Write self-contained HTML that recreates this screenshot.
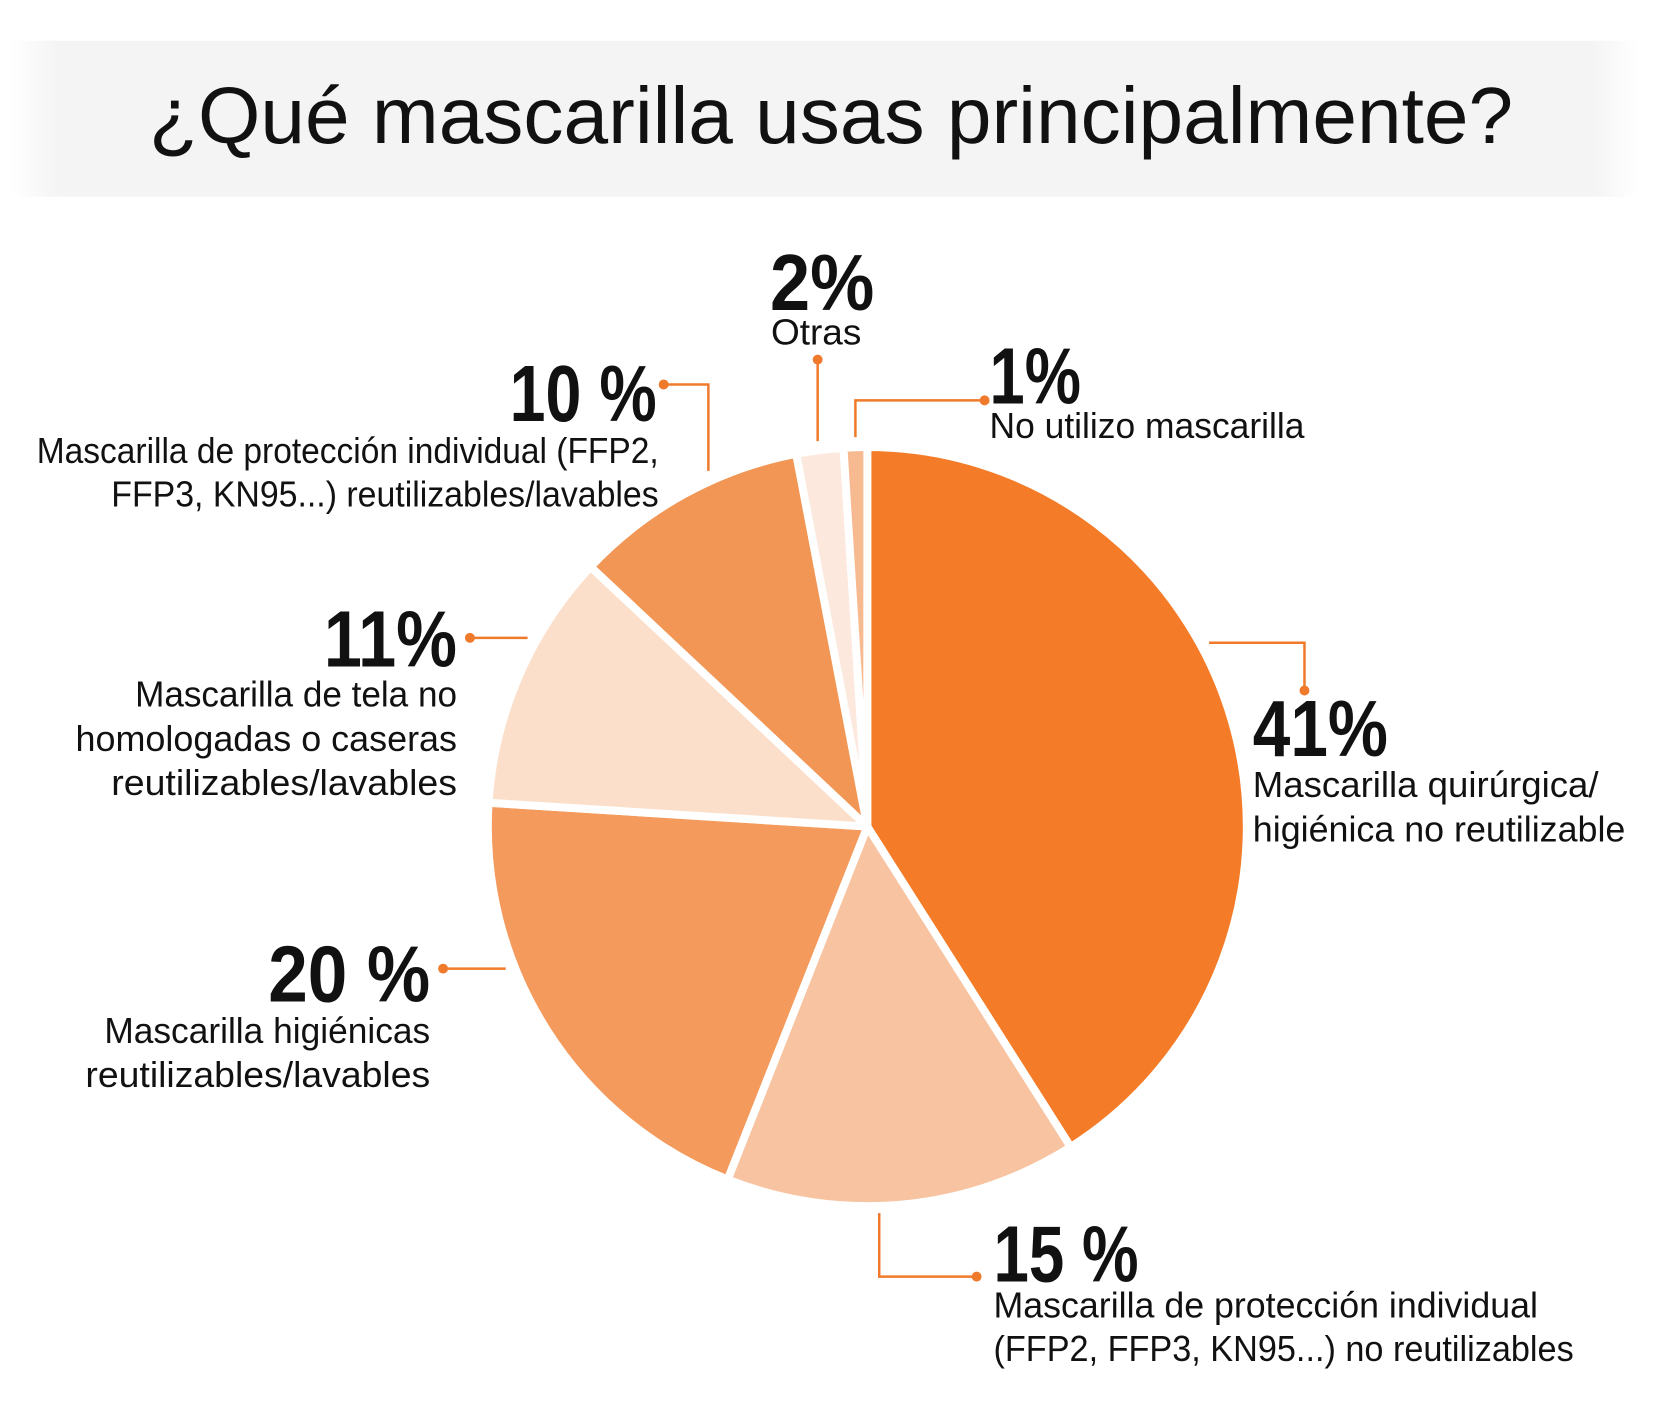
<!DOCTYPE html>
<html><head><meta charset="utf-8"><style>
html,body{margin:0;padding:0;background:#fff}
svg{display:block}
text{font-family:"Liberation Sans",sans-serif;fill:#111}
.p{font-weight:bold;font-size:80px}
.t{font-size:36px}
</style></head><body>
<svg id="s" width="1667" height="1404" viewBox="0 0 1667 1404" xmlns="http://www.w3.org/2000/svg">
<defs><linearGradient id="g" x1="0" x2="1"><stop offset="0" stop-color="#fff"/><stop offset="0.03" stop-color="#f4f4f4"/><stop offset="0.97" stop-color="#f4f4f4"/><stop offset="1" stop-color="#fff"/></linearGradient></defs>
<g transform="scale(0.9935)">
<rect x="10" y="41" width="1640" height="157" fill="url(#g)"/>
<text x="150" y="144" font-size="80" textLength="1373" lengthAdjust="spacingAndGlyphs">¿Qué mascarilla usas principalmente?</text>
<g id="pie"></g>
<g stroke="#f07a2c" stroke-width="2.5" fill="none">
<polyline points="1217,647 1313,647 1313,695"/>
<polyline points="885,1221 885,1285 983,1285"/>
<polyline points="446,975 509,975"/>
<polyline points="473,642 531,642"/>
<polyline points="668,387 713,387 713,474"/>
<polyline points="823,362 823,444"/>
<polyline points="861,440 861,403 991,403"/>
</g>
<g fill="#f07a2c">
<circle cx="1313" cy="695" r="5"/><circle cx="983" cy="1285" r="5"/><circle cx="446" cy="975" r="5"/>
<circle cx="473" cy="642" r="5"/><circle cx="668" cy="387" r="5"/><circle cx="823" cy="362" r="5"/><circle cx="991" cy="403" r="5"/>
</g>
<text class="p" x="1261" y="761" textLength="136" lengthAdjust="spacingAndGlyphs">41%</text>
<text class="t" x="1261" y="802" textLength="348" lengthAdjust="spacingAndGlyphs">Mascarilla quirúrgica/</text>
<text class="t" x="1261" y="847" textLength="375" lengthAdjust="spacingAndGlyphs">higiénica no reutilizable</text>
<text class="p" x="1000" y="1290" textLength="146" lengthAdjust="spacingAndGlyphs">15 %</text>
<text class="t" x="1000" y="1326" textLength="548" lengthAdjust="spacingAndGlyphs">Mascarilla de protección individual</text>
<text class="t" x="1000" y="1370" textLength="584" lengthAdjust="spacingAndGlyphs">(FFP2, FFP3, KN95...) no reutilizables</text>
<text class="p" x="270" y="1008" textLength="163" lengthAdjust="spacingAndGlyphs">20 %</text>
<text class="t" x="105" y="1050" textLength="328" lengthAdjust="spacingAndGlyphs">Mascarilla higiénicas</text>
<text class="t" x="86" y="1094" textLength="347" lengthAdjust="spacingAndGlyphs">reutilizables/lavables</text>
<text class="p" x="326" y="671" textLength="134" lengthAdjust="spacingAndGlyphs">11%</text>
<text class="t" x="136" y="711" textLength="324" lengthAdjust="spacingAndGlyphs">Mascarilla de tela no</text>
<text class="t" x="76" y="756" textLength="384" lengthAdjust="spacingAndGlyphs">homologadas o caseras</text>
<text class="t" x="112" y="800" textLength="348" lengthAdjust="spacingAndGlyphs">reutilizables/lavables</text>
<text class="p" x="513" y="424" textLength="148" lengthAdjust="spacingAndGlyphs">10 %</text>
<text class="t" x="37" y="466" textLength="626" lengthAdjust="spacingAndGlyphs">Mascarilla de protección individual (FFP2,</text>
<text class="t" x="112" y="510" textLength="551" lengthAdjust="spacingAndGlyphs">FFP3, KN95...) reutilizables/lavables</text>
<text class="p" x="775" y="312" textLength="105" lengthAdjust="spacingAndGlyphs">2%</text>
<text class="t" x="776" y="347" textLength="91" lengthAdjust="spacingAndGlyphs">Otras</text>
<text class="p" x="996" y="406" textLength="92" lengthAdjust="spacingAndGlyphs">1%</text>
<text class="t" x="996" y="441" textLength="317" lengthAdjust="spacingAndGlyphs">No utilizo mascarilla</text>
</g>
</svg>
<script>
(function(){
var cx=873,cy=832,r=382;
var d=[[41,"#f47b27"],[15,"#f7c3a0"],[20,"#f49a5c"],[11,"#fbdfca"],[10,"#f29655"],[2,"#fce8dc"],[1,"#f6b990"]];
var a=0,g=document.getElementById("pie"),h="";
function pt(t){var q=t/100*2*Math.PI;return [cx+r*Math.sin(q),cy-r*Math.cos(q)];}
d.forEach(function(s){var p0=pt(a),p1=pt(a+s[0]);var lg=s[0]>50?1:0;
h+='<path d="M'+cx+','+cy+' L'+p0[0].toFixed(1)+','+p0[1].toFixed(1)+' A'+r+','+r+' 0 '+lg+' 1 '+p1[0].toFixed(1)+','+p1[1].toFixed(1)+' Z" fill="'+s[1]+'" stroke="#fff" stroke-width="8" stroke-linejoin="round"/>';a+=s[0];});
g.innerHTML=h;
})();
</script>
</body></html>
